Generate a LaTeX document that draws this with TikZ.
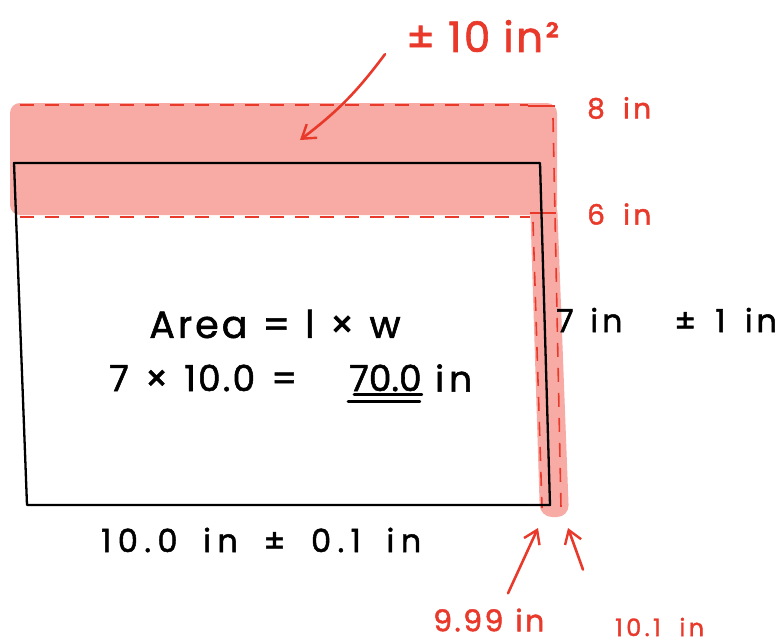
\documentclass[tikz,border=0pt]{standalone}
\usepackage{fontspec}
\setmainfont{Poppins}
\usetikzlibrary{
  arrows.meta,
  positioning,
  calc
}
\definecolor{tolRed}{HTML}{E8392B}
\definecolor{tolBand}{HTML}{F7ABA4}
\newcommand\handfont[3]{\fontsize{#1}{#1}\selectfont\addfontfeature{LetterSpace=#2,FakeBold=1.5}\spaceskip=#3em\relax}
\tikzset{
  ink/.style={font=\handfont{30}{10}{0.4}, inner sep=1pt, text=black},
  redink/.style={ink, text=tolRed},
  band/.style={fill=tolBand},
  bound/.style={draw=tolRed, line width=1.6pt, dash pattern=on 14pt off 11pt},
  boundtick/.style={draw=tolRed, line width=1.6pt},
  edge/.style={draw=black, line width=2.3pt, line join=round},
  underline/.style={draw=black, line width=2.8pt, line cap=round},
  pointer/.style={-{Straight Barb[length=4.5mm, width=6mm, line width=2.4pt]}, draw=tolRed, line width=2.6pt, line cap=round}
}

\begin{document}
\begin{tikzpicture}[x=1pt, y=-1pt]
  \useasboundingbox (0,0) rectangle (784,643);
  % tolerance band
  \fill[band, rounded corners=10pt] (10,103) rectangle (557,215);
  \fill[band, rounded corners=12pt] (530,200) -- (557,200) -- (569,517) -- (540,517) -- cycle;
  % upper and lower bounds
  \draw[bound] (20,105) -- (528,105);
  \draw[boundtick] (528,106) -- (555,106);
  \draw[bound] (20,217) -- (530,217);
  \draw[boundtick] (530,213) -- (556,213);
  \draw[bound] (553,118) -- (561,508);
  \draw[bound] (533,222) -- (542,508);
  % nominal rectangle
  \draw[edge] (14,163) -- (540,163) -- (550,505) -- (27,505) -- cycle;

  \node[redink, font=\handfont{42}{6}{0.31}, anchor=west] (tolArea) at (405,36) {± 10 in²};
  \node[redink, font=\handfont{28}{12}{0.65}, anchor=west] (upper) at (586,108) {8 in};
  \node[redink, font=\handfont{28}{12}{0.65}, anchor=west] (lower) at (586,214) {6 in};
  \node[ink, font=\handfont{32}{12}{0.52}, anchor=west] (height) at (555,320) {7 in};
  \node[ink, font=\handfont{32}{12}{0.6}, anchor=west] (heightTol) at (673,320) {± 1 in};

  \node[ink, font=\handfont{38}{8}{0.4}] (formula) at (275,324) {Area = l × w};
  \node[ink, font=\handfont{36}{6}{0.45}, anchor=west] (product) at (108,378) {7 × 10.0 =};
  \node[ink, font=\handfont{36}{0}{0.3}, anchor=west] (result) at (348,378) {70.0};
  \node[ink, font=\handfont{36}{14}{0.3}, anchor=west] (unit) at (434,378) {in};
  \draw[underline] ([xshift=6pt, yshift=-2pt]result.south west) -- ([xshift=-1pt, yshift=-2pt]result.south east);
  \draw[underline] ([yshift=-9pt]result.south west) -- ([xshift=-3pt, yshift=-9pt]result.south east);

  \node[ink, font=\handfont{32}{20}{0.8}, anchor=west] (width) at (100,540) {10.0 in ± 0.1 in};
  \node[redink, font=\handfont{30}{8}{0.4}, anchor=west] (minw) at (432,620) {9.99 in};
  \node[redink, font=\handfont{24}{14}{0.78}, anchor=west] (maxw) at (614,627) {10.1 in};

  \coordinate (bandtip) at (300,140);
  \coordinate (minwtip) at (538,528);
  \coordinate (maxwtip) at (568,528);
  \draw[pointer] ([xshift=-20pt, yshift=-1pt]tolArea.south west) to[bend left=8] (bandtip);
  \draw[pointer] ([xshift=76pt, yshift=14pt]minw.north west) -- (minwtip);
  \draw[pointer] ([xshift=-31pt, yshift=47pt]maxw.north west) -- (maxwtip);
\end{tikzpicture}
\end{document}
